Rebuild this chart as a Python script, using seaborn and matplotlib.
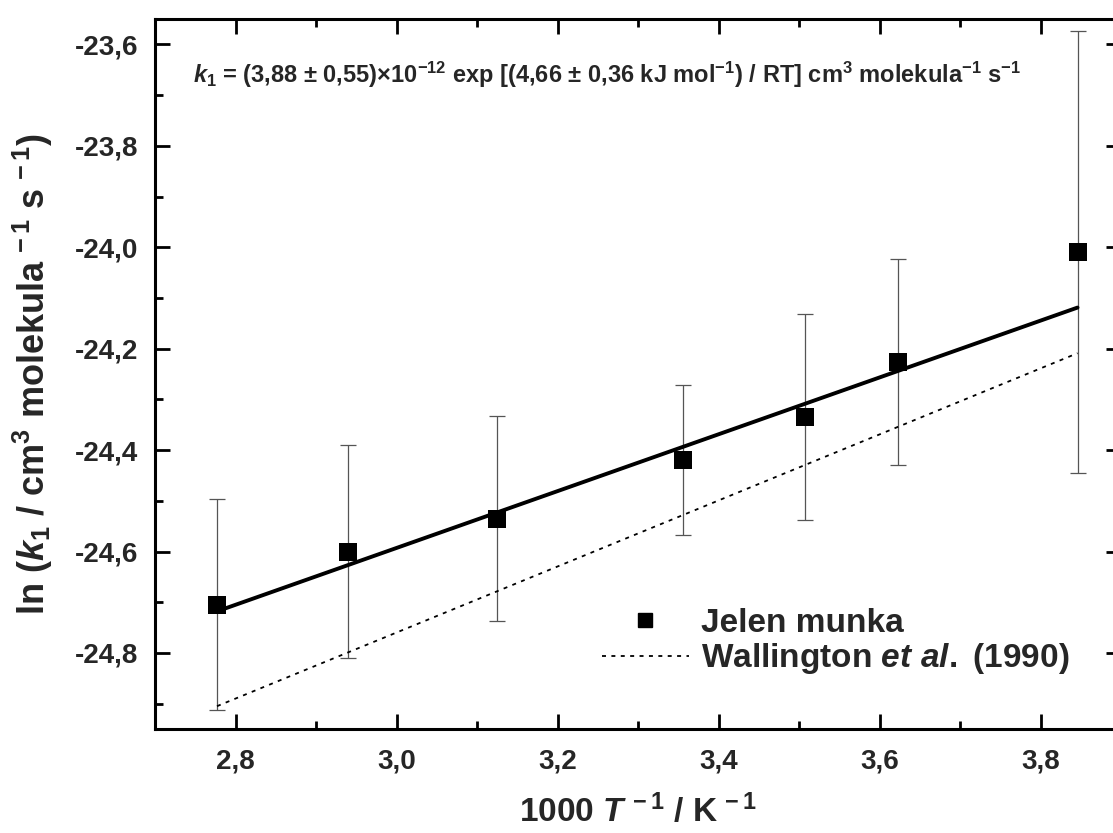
import matplotlib
matplotlib.use("Agg")
import matplotlib.pyplot as plt
from matplotlib.lines import Line2D
from matplotlib.ticker import FuncFormatter, MultipleLocator
import seaborn as sns
import pandas as pd

# Measured rate coefficients: 1000/T and ln k1 with their uncertainties
inv_T = [2.777, 2.940, 3.125, 3.356, 3.508, 3.623, 3.846]
ln_k1 = [-24.705, -24.600, -24.535, -24.420, -24.334, -24.227, -24.010]
ln_k1_err = [0.208, 0.210, 0.202, 0.148, 0.203, 0.203, 0.436]

# Arrhenius fit of this work and the Wallington et al. (1990) expression
fit_x = [2.777, 3.846]
fit_y = [-24.718, -24.119]
wall_x = [2.777, 3.846]
wall_y = [-24.905, -24.209]

sns.set_theme(style="ticks")
plt.rcParams.update({
    "font.family": ["Liberation Sans", "DejaVu Sans"],
    "font.weight": "bold",
    "axes.labelweight": "bold",
    "mathtext.fontset": "custom",
    "mathtext.rm": "Liberation Sans:bold",
    "mathtext.bf": "Liberation Sans:bold",
    "mathtext.sf": "Liberation Sans:bold",
    "mathtext.it": "Liberation Sans:bold:italic",
    "mathtext.default": "rm",
})

W, H = 1113, 833
fig = plt.figure(figsize=(W / 100, H / 100), dpi=100)
ax = fig.add_axes([155 / W, 1 - 729 / H, 966 / W, 710 / H])

points = pd.DataFrame({"x": inv_T, "y": ln_k1})

ax.errorbar(inv_T, ln_k1, yerr=ln_k1_err, fmt="none", ecolor="#555555",
            elinewidth=0.9, capsize=6, capthick=0.9, zorder=2)
sns.lineplot(x=wall_x, y=wall_y, ax=ax, color="black", linewidth=1.3,
             linestyle=(0, (2.2, 3.0)), zorder=3)
sns.lineplot(x=fit_x, y=fit_y, ax=ax, color="black", linewidth=2.8, zorder=4)
sns.scatterplot(data=points, x="x", y="y", ax=ax, marker="s", s=150,
                color="black", edgecolor="black", linewidth=0, zorder=5)

ax.set_xlim(2.7, 3.9)
ax.set_ylim(-24.95, -23.55)
ax.xaxis.set_major_locator(MultipleLocator(0.2))
ax.xaxis.set_minor_locator(MultipleLocator(0.1))
ax.yaxis.set_major_locator(MultipleLocator(0.2))
ax.yaxis.set_minor_locator(MultipleLocator(0.1))

comma = FuncFormatter(lambda v, p: f"{v:.1f}".replace(".", ","))
ax.xaxis.set_major_formatter(comma)
ax.yaxis.set_major_formatter(comma)

for s in ax.spines.values():
    s.set_visible(True)
    s.set_linewidth(2.2)
    s.set_color("black")
ax.tick_params(which="both", direction="in", top=True, right=True,
               width=2.0, color="black", labelsize=20)
ax.tick_params(axis="y", pad=12)
ax.tick_params(axis="x", pad=14)
ax.tick_params(which="major", length=11)
ax.tick_params(which="minor", length=6)
for lab in ax.get_xticklabels() + ax.get_yticklabels():
    lab.set_fontweight("bold")

ax.set_xlabel(r"1000 $\mathit{T}^{\,-1}$ / K$^{\,-1}$", fontsize=24,
              fontweight="bold", labelpad=14)
ax.set_ylabel(r"ln ($\mathit{k}_{1}$ / cm$^{3}$ molekula$^{\,-1}$ s$^{\,-1}$)",
              fontsize=26, fontweight="bold", labelpad=14)

ax.text(2.7 + 38 / 805, -23.55 - 56 / 506,
        r"$\mathit{k}_{1}$ = (3,88 ± 0,55)×10$^{-12}$ exp [(4,66 ± 0,36 kJ mol$^{-1}$) / RT] "
        r"cm$^{3}$ molekula$^{-1}$ s$^{-1}$",
        fontsize=17, fontweight="bold", va="center", ha="left")

handles = [
    Line2D([], [], marker="s", linestyle="none", color="black", markersize=9.5),
    Line2D([], [], color="black", linewidth=1.3, linestyle=(0, (2.2, 3.0))),
]
labels = ["Jelen munka", r"Wallington $\mathit{et\ al.}$ (1990)"]
ax.legend(handles, labels, loc="center left",
          bbox_to_anchor=(602 / W, 1 - 642 / H), bbox_transform=fig.transFigure,
          frameon=False, prop={"size": 24, "weight": "bold"},
          handlelength=2.6, handletextpad=0.36, labelspacing=0.08,
          borderpad=0, borderaxespad=0)

fig.savefig("out.png", dpi=100)
